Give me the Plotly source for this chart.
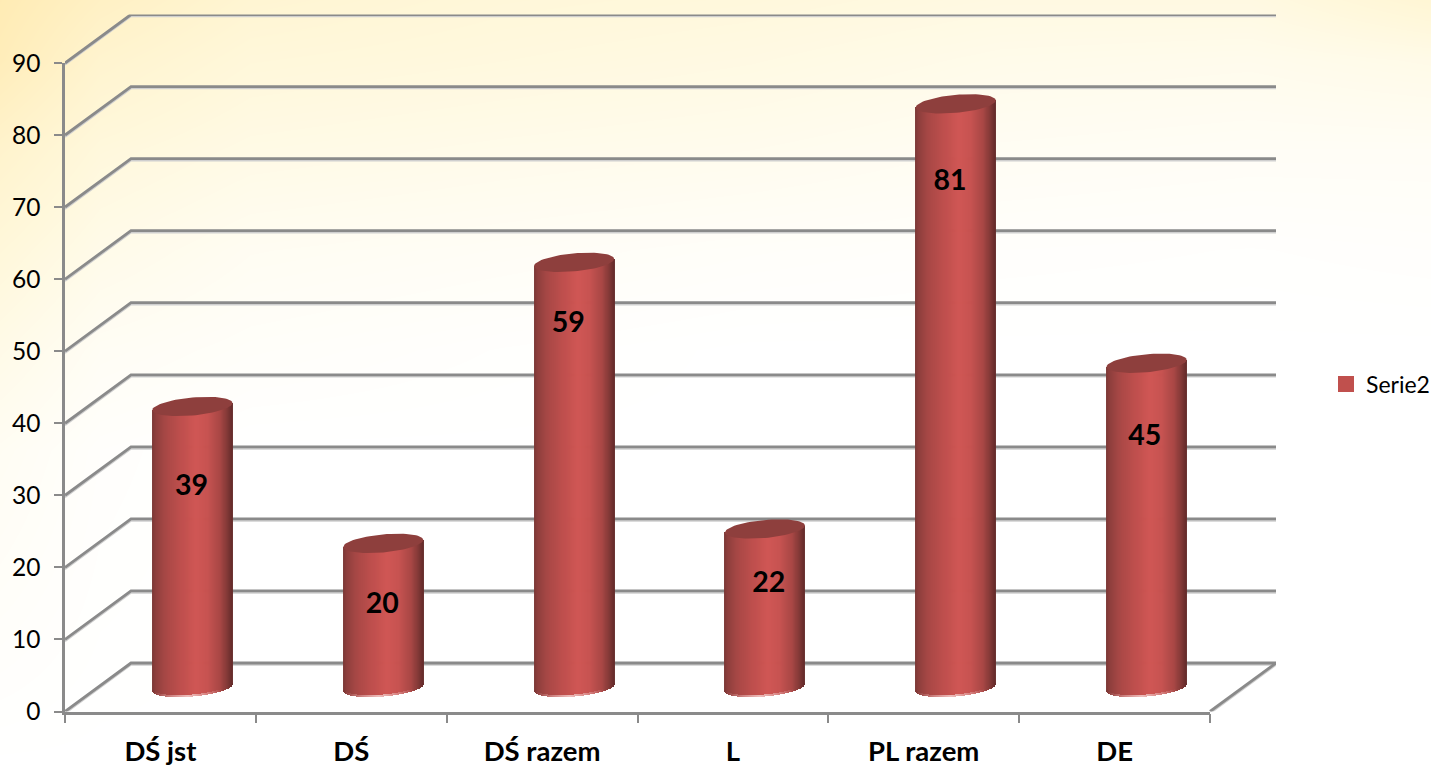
import numpy as np
import plotly.graph_objects as go

# ---------- data ----------
categories = ["DŚ jst", "DŚ", "DŚ razem", "L", "PL razem", "DE"]
values = [39, 20, 59, 22, 81, 45]
series_name = "Serie2"
y_ticks = [0, 10, 20, 30, 40, 50, 60, 70, 80, 90]
label_heights = [31.1, 14.6, 53.7, 17.6, 73.4, 38.0]
label_shifts = [-0.005, -0.005, -0.03, 0.02, -0.03, -0.01]

bg_x = [0, 100, 250, 500, 750, 1000, 1250, 1431]
bg_y = [0, 60, 150, 250, 350, 450, 768]
bg_z = [
    [0.72, 0.55, 0.40, 0.33, 0.30, 0.25, 0.25, 0.38],
    [0.66, 0.44, 0.32, 0.28, 0.24, 0.18, 0.16, 0.20],
    [0.46, 0.30, 0.22, 0.18, 0.15, 0.10, 0.08, 0.08],
    [0.32, 0.19, 0.11, 0.08, 0.05, 0.03, 0.02, 0.03],
    [0.20, 0.09, 0.05, 0.02, 0.00, 0.00, 0.00, 0.00],
    [0.10, 0.03, 0.00, 0.00, 0.00, 0.00, 0.00, 0.00],
    [0.00, 0.00, 0.00, 0.00, 0.00, 0.00, 0.00, 0.00],
]

# ---------- layout geometry (pixels of the 1431x768 page) ----------
W, H = 1431, 768
X0, X1, Y0, Y90 = 65, 1210, 711.5, 63
PX_X = (X1 - X0) / len(categories)      # px per category
PX_Y = (Y0 - Y90) / 90                  # px per value unit
DEPTH_PX_X, DEPTH_PX_Y = 66, 48.5
DEPTH_X, DEPTH_Y = DEPTH_PX_X / PX_X, DEPTH_PX_Y / PX_Y
BAR_SHIFT_X, BAR_SHIFT_Y = 32 / PX_X, 24 / PX_Y
RX, RY, TILT = 40 / PX_X, 9 / PX_Y, 3.5 / PX_Y
GRID = "#8a8a8a"

stops_u = [-1.0, -0.92, -0.7, -0.3, 0.1, 0.4, 0.7, 0.9, 1.0]
stops_rgb = np.array([[122, 56, 54], [140, 62, 60], [165, 71, 69], [190, 79, 77], [207, 87, 85],
                      [198, 83, 81], [168, 71, 69], [126, 55, 53], [100, 44, 43]], float)
HIGHLIGHT = np.array([236, 190, 188], float)


def side_rgb(u):
    return np.array([np.interp(u, stops_u, stops_rgb[:, c]) for c in range(3)])


def css(rgb):
    return "rgb(%d,%d,%d)" % tuple(rgb)


fig = go.Figure()

# background wash
fig.add_trace(go.Heatmap(x=bg_x, y=bg_y, z=bg_z, zmin=0, zmax=1, zsmooth="best", showscale=False,
                         colorscale=[[0, "#ffffff"], [0.3, "#fff8dc"], [1, "#ffe39a"]],
                         hoverinfo="skip", xaxis="x", yaxis="y"))

# 3-D frame: back wall lines, side wall diagonals, floor edge
left, right = -0.5, len(categories) - 0.5
gx, gy = [], []
for v in y_ticks:
    gx += [left, left + DEPTH_X, right + DEPTH_X, None]
    gy += [v, v + DEPTH_Y, v + DEPTH_Y, None]
gx += [right, right + DEPTH_X]
gy += [0, DEPTH_Y]
fig.add_trace(go.Scatter(x=gx, y=[None if g is None else g - 0.25 for g in gy], mode="lines",
                         line=dict(color="#cfcfcf", width=2), showlegend=False,
                         hoverinfo="skip", xaxis="x2", yaxis="y2"))
fig.add_trace(go.Scatter(x=gx, y=gy, mode="lines", line=dict(color=GRID, width=2.8),
                         showlegend=False, hoverinfo="skip", xaxis="x2", yaxis="y2"))

# legend entry (also carries the visible axes)
fig.add_trace(go.Scatter(x=[None], y=[None], mode="markers", name=series_name,
                         marker=dict(symbol="square", size=16, color="#c0504d"), xaxis="x3", yaxis="y3"))

# cylinders: one narrow bar per pixel column, ellipse on top
sx, sb, sh, sc = [], [], [], []
n = int(round(RX * 2 * PX_X))
us = (np.arange(n) + 0.5) / n * 2 - 1
for i, v in enumerate(values):
    cx = i + BAR_SHIFT_X
    for u in us:
        base = BAR_SHIFT_Y + TILT * u - RY * np.sqrt(1 - u * u)
        top = BAR_SHIFT_Y + v + TILT * u
        sx.append(cx + u * RX)
        sb.append(base)
        sh.append(top - base)
        sc.append(css(side_rgb(u)))
    for u in us:   # pale rim along the lower edge
        base = BAR_SHIFT_Y + TILT * u - RY * np.sqrt(1 - u * u)
        mix = max(0.0, 1 - abs(u + 0.1) / 0.85)
        sx.append(cx + u * RX)
        sb.append(base)
        sh.append(2 / PX_Y)
        sc.append(css(side_rgb(u) * (1 - mix) + HIGHLIGHT * mix))
fig.add_trace(go.Bar(x=sx, y=sh, base=sb, width=2 * RX / n,
                     marker=dict(color=sc, line=dict(width=0), opacity=0.97),
                     showlegend=False, hoverinfo="skip", xaxis="x4", yaxis="y4"))

t = np.linspace(0, 2 * np.pi, 73)
for i, v in enumerate(values):
    cx = i + BAR_SHIFT_X
    cy = BAR_SHIFT_Y + v
    fig.add_trace(go.Scatter(x=cx + RX * np.cos(t), y=cy + RY * np.sin(t) + TILT * np.cos(t), mode="lines",
                             fill="toself", fillcolor="#8e3f3d", line=dict(width=0),
                             showlegend=False, hoverinfo="skip", xaxis="x4", yaxis="y4"))

# value labels
fig.add_trace(go.Scatter(x=[i + BAR_SHIFT_X + s for i, s in enumerate(label_shifts)], y=label_heights,
                         mode="text", text=[str(v) for v in values], cliponaxis=False,
                         textfont=dict(family="Lato", size=28.5, color="#000000", weight="bold"),
                         showlegend=False, hoverinfo="skip", xaxis="x4", yaxis="y4"))

hidden = dict(visible=False, fixedrange=True)
dom_x = [X0 / W, X1 / W]
dom_y = [1 - Y0 / H, 1 - Y90 / H]
fig.update_layout(
    width=W, height=H, autosize=False, margin=dict(l=0, r=0, t=0, b=0, autoexpand=False),
    paper_bgcolor="#ffffff", plot_bgcolor="rgba(0,0,0,0)", barmode="overlay", bargap=0,
    font=dict(family="Lato", color="#000000"),
    xaxis=dict(domain=[0, 1], range=[0, W], **hidden),
    yaxis=dict(domain=[0, 1], range=[H, 0], **hidden),
    xaxis2=dict(domain=[X0 / W, (X1 + DEPTH_PX_X) / W], range=[left, right + DEPTH_X], anchor="y2", **hidden),
    yaxis2=dict(domain=[1 - Y0 / H, 1 - (Y90 - DEPTH_PX_Y) / H], range=[0, 90 + DEPTH_Y], anchor="x2", **hidden),
    xaxis3=dict(domain=dom_x, range=[left, right], anchor="y3", tickmode="array",
                tickvals=list(range(len(categories))), ticktext=categories, ticks="", showgrid=False,
                showline=True, linecolor=GRID, linewidth=2.5, zeroline=False, ticklabelstandoff=14,
                tickfont=dict(family="Lato", size=27.5, color="#000000", weight="bold"),
                minor=dict(tickmode="array", tickvals=[left + k for k in range(len(categories) + 1)],
                           ticks="outside", ticklen=9, tickwidth=2, tickcolor=GRID, showgrid=False)),
    yaxis3=dict(domain=dom_y, range=[0, 90], anchor="x3", tickmode="array", tickvals=y_ticks,
                ticks="outside", ticklen=8, tickwidth=2, tickcolor=GRID, showgrid=False, showline=True,
                linecolor=GRID, linewidth=2.5, zeroline=False, ticklabelstandoff=9,
                tickfont=dict(family="Lato", size=24.5, color="#000000")),
    xaxis4=dict(domain=dom_x, range=[left, right], anchor="y4", **hidden),
    yaxis4=dict(domain=dom_y, range=[0, 90], anchor="x4", **hidden),
    legend=dict(x=1326 / W, y=1 - 384 / H, xanchor="left", yanchor="middle", bgcolor="rgba(0,0,0,0)",
                font=dict(family="Lato", size=23, color="#000000"), itemwidth=30),
)

fig.write_html("out.html", config=dict(displayModeBar=False),
               post_script="document.body.style.margin='0';document.body.style.overflow='hidden';")
